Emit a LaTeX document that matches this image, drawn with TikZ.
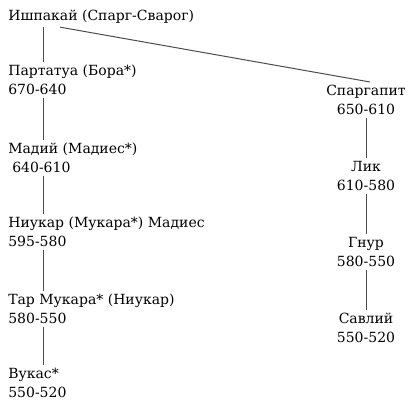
\documentclass[tikz,border=0pt]{standalone}
\usepackage{fontspec}
\setmainfont{DejaVu Serif}
\usetikzlibrary{calc}

\begin{document}
\begin{tikzpicture}
            [x=1pt, y=-1pt, semithick,
            king/.style={align=left, anchor=north west, inner sep=3pt,
                font=\fontsize{14}{18.5}\selectfont},
            rking/.style={king, align=center, anchor=north},
            tie/.style={draw=black!70, line width=1pt}]

            \useasboundingbox (0,0) rectangle (413,406);

            % left line
            \node[king] (ishpakai) at (5,7) {Ишпакай (Спарг-Сварог)};
            \node[king] (partatua) at (5,62) {Партатуа (Бора*)\\670-640};
            \node[king] (madiy) at (5,140) {Мадий (Мадиес*)\\\hspace{4pt}640-610};
            \node[king] (niukar) at (5,214) {Ниукар (Мукара*) Мадиес\\595-580};
            \node[king] (tar) at (5,291) {Тар Мукара* (Ниукар)\\580-550};
            \node[king] (vukas) at (5,365) {Вукас*\\550-520};

            % right line
            \node[rking] (spargapit) at (366,82) {Спаргапит\\650-610};
            \node[rking] (lik) at (366,158) {Лик\\610-580};
            \node[rking] (gnur) at (366,234) {Гнур\\580-550};
            \node[rking] (savliy) at (366,310) {Савлий\\550-520};

            \draw[tie] ([xshift=38pt]ishpakai.south west) -- ([xshift=38pt]partatua.north west);
            \draw[tie] ([xshift=38pt]partatua.south west) -- ([xshift=38pt]madiy.north west);
            \draw[tie] ([xshift=38pt]madiy.south west) -- ([xshift=38pt]niukar.north west);
            \draw[tie] ([xshift=38pt]niukar.south west) -- ([xshift=38pt]tar.north west);
            \draw[tie] ([xshift=38pt]tar.south west) -- ([xshift=38pt]vukas.north west);

            \draw[tie] ([xshift=55pt]ishpakai.south west) -- ([xshift=4pt]spargapit.north);
            \draw[tie] (spargapit) -- (lik);
            \draw[tie] (lik) -- (gnur);
            \draw[tie] (gnur) -- (savliy);

          \end{tikzpicture}
\end{document}
